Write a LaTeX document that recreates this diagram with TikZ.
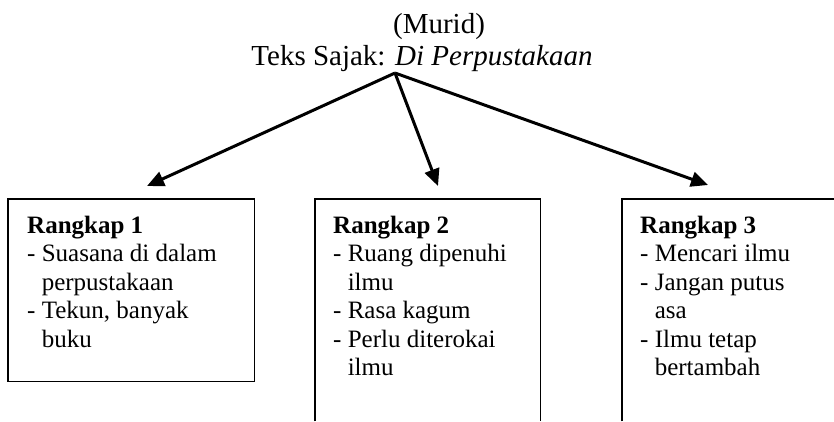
\documentclass[tikz,border=0pt]{standalone}
\usepackage{fontspec}
\setmainfont{Liberation Serif}
\usetikzlibrary{arrows.meta}
\tikzset{
  boxline/.style={line width=1.6pt},
  arrowline/.style={line width=3pt,-{Triangle[length=17pt,width=15pt]}},
  boxtext/.style={anchor=north west,inner sep=0pt,align=left,font=\fontsize{25}{28.4}\selectfont},
  titletext/.style={anchor=base,inner sep=0pt,font=\fontsize{29}{32}\selectfont},
  frame/.style={draw=none,rectangle,inner sep=0pt,anchor=north west}
}
\begin{document}
\begin{tikzpicture}[x=1pt,y=-1pt]
\useasboundingbox (0,0) rectangle (834,421);
% titles
\node[titletext] (murid) at (439,33) {(Murid)};
\node[titletext] (teks) at (422,65) {Teks Sajak: \textit{Di Perpustakaan}};
% boxes
\node[frame,minimum width=246pt,minimum height=182pt] (b1) at (8,199) {};
\node[frame,minimum width=225pt,minimum height=222pt] (b2) at (315,199) {};
\node[frame,minimum width=212pt,minimum height=222pt] (b3) at (622,199) {};
\draw[boxline] (b1.north west) rectangle (b1.south east);
\draw[boxline] (b2.south west) -- (b2.north west) -- (b2.north east) -- (b2.south east);
\draw[boxline] (b3.south west) -- (b3.north west) -- (b3.north east);
% texts
\node[boxtext] (t1) at (27,216) {\textbf{Rangkap 1}\\- Suasana di dalam\\\phantom{- }perpustakaan\\- Tekun, banyak\\\phantom{- }buku};
\node[boxtext] (t2) at (333,216) {\textbf{Rangkap 2}\\- Ruang dipenuhi\\\phantom{- }ilmu\\- Rasa kagum\\- Perlu diterokai\\\phantom{- }ilmu};
\node[boxtext] (t3) at (640,216) {\textbf{Rangkap 3}\\- Mencari ilmu\\- Jangan putus\\\phantom{- }asa\\- Ilmu tetap\\\phantom{- }bertambah};
% arrows
\coordinate (src) at (395,73);
\coordinate (e1) at (147,186);
\coordinate (e2) at (438,186);
\coordinate (e3) at (708,185);
\draw[arrowline] (src) -- (e1);
\draw[arrowline] (src) -- (e2);
\draw[arrowline] (src) -- (e3);
\end{tikzpicture}
\end{document}
